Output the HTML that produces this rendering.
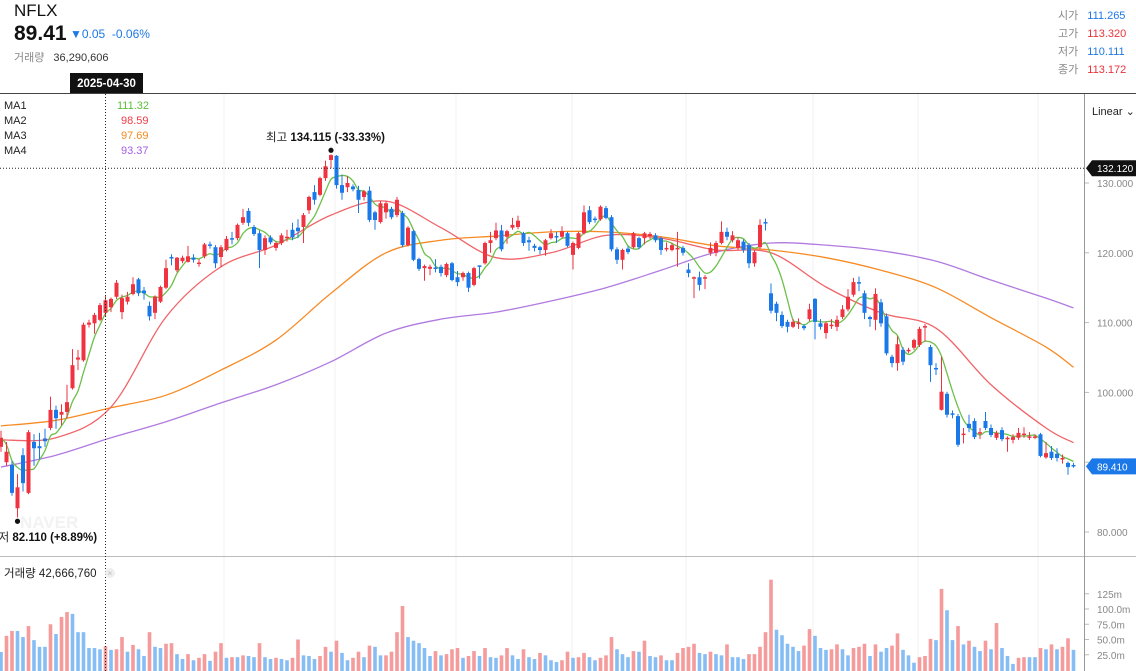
<!DOCTYPE html>
<html><head><meta charset="utf-8">
<style>
body{margin:0;width:1136px;height:671px;overflow:hidden;background:#fff;font-family:"Liberation Sans","Noto Sans CJK KR",sans-serif;position:relative}
.a{position:absolute;white-space:nowrap}
</style></head><body>
<div class="a" style="left:14px;top:1px;font-size:17px;color:#111">NFLX</div>
<div class="a" style="left:14px;top:22px;font-size:21px;font-weight:bold;color:#111">89.41</div>
<div class="a" style="left:70px;top:27px;font-size:12px;color:#1e78e6">▼0.05&nbsp;&nbsp;-0.06%</div>
<div class="a" style="left:14px;top:49px;font-size:11px;color:#888">거래량 <span style="color:#333;margin-left:6px">36,290,606</span></div>
<div class="a" style="left:1058px;top:7px;font-size:11px;line-height:18px;color:#888">
<div>시가 <span style="color:#1e78e6;margin-left:6px">111.265</span></div>
<div>고가 <span style="color:#e8333a;margin-left:6px">113.320</span></div>
<div>저가 <span style="color:#1e78e6;margin-left:6px">110.111</span></div>
<div>종가 <span style="color:#e8333a;margin-left:6px">113.172</span></div>
</div>
<div class="a" style="left:4px;top:99px;font-size:11px;line-height:15px;color:#222">
<div>MA1<span style="position:absolute;left:113px;color:#5cbf3a">111.32</span></div>
<div>MA2<span style="position:absolute;left:117px;color:#f03c46">98.59</span></div>
<div>MA3<span style="position:absolute;left:117px;color:#f5891f">97.69</span></div>
<div>MA4<span style="position:absolute;left:117px;color:#a45ee0">93.37</span></div>
</div>
<svg id="c" width="1136" height="671" style="position:absolute;left:0;top:0" xmlns="http://www.w3.org/2000/svg" font-family="Liberation Sans, Noto Sans CJK KR, sans-serif"></svg>
<script>
const opens=[92.2,90.0,89.6,83.4,91.0,85.6,92.9,92.3,93.4,94.9,97.5,96.8,97.2,100.6,104.7,104.6,109.7,109.9,110.4,111.4,112.2,113.7,111.5,113.0,114.1,116.2,114.6,112.4,111.4,113.0,115.0,119.4,117.5,118.8,118.7,119.3,118.4,119.5,121.2,120.8,119.4,120.4,122.1,122.1,124.3,126.0,123.7,122.8,120.4,122.2,120.7,121.4,122.1,123.3,123.6,123.7,126.1,128.7,128.3,130.7,133.3,133.9,129.7,129.4,129.5,129.0,128.0,128.9,125.8,124.4,125.8,126.3,125.4,125.7,121.1,123.1,119.1,117.8,117.7,117.9,118.0,116.8,118.5,116.5,116.5,117.1,115.4,118.2,118.5,121.4,122.1,123.2,122.3,123.6,123.7,122.8,121.8,121.0,120.8,120.4,122.1,122.4,122.3,122.8,119.7,120.7,122.8,126.1,124.9,124.8,126.4,125.1,120.5,119.0,120.6,120.8,122.1,122.1,122.4,122.5,122.1,120.5,120.4,120.5,120.7,117.6,116.3,116.5,116.3,120.0,120.0,121.4,123.0,121.8,120.7,121.6,121.1,118.5,120.8,124.4,114.2,112.7,111.1,110.1,109.4,109.8,109.5,110.5,113.4,109.9,108.5,109.5,109.4,110.8,111.9,114.0,115.8,114.2,110.8,110.4,112.9,110.9,105.1,104.2,106.1,105.9,106.4,106.8,109.3,106.5,103.5,97.5,99.8,97.0,96.6,93.9,95.5,95.9,94.1,95.9,94.9,93.5,94.6,93.3,93.2,93.5,93.9,93.5,93.5,94.0,90.7,91.5,91.2,90.4,89.9,89.6];
const highs=[94.5,92.9,90.2,88.3,92.0,94.6,94.0,94.2,94.8,99.4,98.1,98.3,101.1,106.2,106.1,110.0,110.4,111.4,112.8,113.8,113.6,116.1,114.0,114.4,116.5,116.4,115.1,113.0,113.9,115.3,119.0,119.8,119.4,119.6,121.0,119.8,119.1,121.4,121.6,121.1,121.1,122.4,123.0,124.2,126.3,126.4,124.0,123.2,122.5,122.5,121.6,122.8,123.3,124.3,124.8,125.7,128.2,129.7,130.9,133.2,134.1,134.0,131.2,131.0,129.8,129.6,129.0,129.5,126.0,127.4,127.4,126.6,128.0,126.0,123.8,123.3,119.3,118.3,118.3,119.1,118.3,118.6,118.7,117.4,117.3,117.3,118.0,118.2,121.6,123.0,124.3,124.0,123.3,125.0,125.3,123.0,122.3,121.3,121.0,122.0,123.4,123.0,123.8,123.0,121.6,123.0,126.8,126.7,125.2,126.8,126.7,125.4,120.8,120.6,121.0,123.0,122.3,123.0,123.0,122.8,122.3,121.5,121.4,123.0,121.0,118.5,116.6,117.3,116.8,121.5,121.7,124.5,123.6,123.1,122.2,121.9,121.4,120.4,124.8,124.9,115.6,113.0,111.6,110.4,110.5,110.6,109.8,112.7,113.5,110.5,110.2,110.5,111.0,112.5,114.8,116.4,116.6,114.6,111.0,114.9,113.4,111.3,105.4,108.0,106.5,106.4,107.7,109.4,109.8,106.8,104.2,105.1,100.1,97.4,96.9,94.9,96.8,96.3,94.9,97.2,95.4,94.5,95.0,93.7,94.0,94.9,95.0,94.3,94.0,94.2,92.9,92.3,92.0,91.1,90.1,89.9];
const lows=[91.5,89.5,85.2,82.1,85.8,85.4,89.5,90.4,92.2,94.6,94.8,95.3,96.3,100.4,103.2,104.4,109.3,108.4,110.2,110.8,111.5,113.4,110.5,112.6,113.9,113.8,113.3,110.3,110.5,112.8,114.8,118.2,117.2,118.5,118.6,118.6,118.0,119.2,120.6,117.8,117.9,120.2,121.2,121.8,124.0,123.8,122.4,117.8,119.7,121.2,120.3,121.1,121.6,121.8,122.1,121.4,125.6,126.9,128.1,130.3,132.1,129.2,127.6,128.7,128.8,125.7,127.5,124.4,123.3,124.2,124.9,124.8,125.1,120.8,120.9,118.8,117.4,116.0,116.8,117.2,116.6,116.5,115.9,115.2,116.0,114.4,115.2,116.3,118.3,120.0,121.8,120.2,121.3,123.3,123.4,121.0,120.3,120.2,119.8,119.6,121.9,121.4,122.1,120.8,117.6,120.5,122.6,124.1,124.3,124.6,124.8,120.2,118.4,117.6,119.8,120.6,120.5,121.2,122.0,121.5,119.7,120.2,120.2,118.0,119.6,116.5,113.5,114.6,114.8,119.6,119.5,121.2,121.8,121.5,120.4,120.0,117.8,118.0,120.5,123.2,111.3,110.2,109.2,108.6,109.2,109.1,108.9,110.2,107.6,109.0,107.7,109.1,108.8,110.5,111.6,113.7,114.5,110.5,109.4,108.9,109.4,105.3,103.6,103.1,103.9,105.6,106.1,106.5,107.3,101.5,102.5,97.4,96.4,96.3,92.2,92.7,94.3,93.3,93.3,94.6,93.6,93.2,93.0,91.5,92.7,93.2,93.5,93.2,93.3,90.7,90.5,90.3,90.1,89.8,88.2,89.2];
const closes=[93.5,91.5,85.6,86.4,87.0,94.3,92.0,92.0,93.0,97.5,96.3,97.2,98.6,103.9,105.0,109.7,110.0,111.1,112.5,113.2,113.4,115.7,113.5,113.7,115.5,114.2,114.2,110.9,113.7,115.1,117.8,119.2,119.3,119.3,119.5,119.0,118.6,121.2,121.0,118.5,120.8,122.0,121.9,124.0,125.1,124.3,122.7,120.4,122.1,121.5,121.4,122.5,122.3,122.2,123.1,125.4,128.0,127.6,130.7,132.4,134.0,129.7,128.6,130.0,129.1,127.6,128.8,124.7,124.7,127.1,127.1,125.1,127.6,121.1,123.6,119.0,117.7,118.1,118.0,117.7,117.1,118.4,116.1,115.8,117.1,115.0,117.8,118.0,121.4,121.8,123.2,120.5,123.1,124.0,124.6,121.4,121.5,120.7,120.4,121.8,122.8,122.2,123.1,121.0,121.4,122.8,125.8,124.4,124.7,126.6,125.0,120.5,119.0,120.4,120.1,122.8,120.8,122.8,122.7,121.8,120.4,120.7,121.1,120.7,120.0,117.1,116.5,115.4,116.5,120.7,121.4,123.0,122.3,122.5,121.8,120.4,118.5,120.1,124.0,124.2,111.7,111.4,109.5,109.4,110.1,110.0,109.2,111.9,110.1,109.4,109.9,109.7,110.4,111.9,113.7,115.8,115.6,111.4,110.5,114.1,109.9,105.6,104.2,106.9,104.4,106.1,107.5,109.1,109.5,103.9,103.3,100.1,96.8,96.8,92.5,94.1,94.9,93.6,94.3,94.9,93.9,94.2,93.3,93.5,93.6,94.2,94.1,93.7,93.7,90.9,91.3,90.6,90.6,90.6,89.3,89.4];
const volumes=[29.5,56,64,64,54,72,49,38,38,75,59,87,95,92,62,62,36,36,34,39,33,34,54,30,41,34,23,62,38,36,43,44,26,18,26,16,20,26,15,30,44,20,21,21,24,23,21,44,21,18,20,18,16,20,50,24,23,18,23,38,30,48,28,16,20,30,21,40,38,24,24,30,62,105,54,48,44,36,23,31,24,26,34,36,20,23,31,23,36,21,20,24,36,24,18,34,21,18,28,24,16,13,
16,30,20,21,28,21,16,20,24,54,34,26,21,31,30,48,23,21,24,16,16,28,36,38,43,28,26,30,26,24,42,21,21,18,26,26,38,62,148,66,57,43,38,31,40,67,56,36,33,34,42,34,24,36,38,43,23,42,30,36,40,60,33,24,12,21,23,51,49,133,98,49,72,42,48,38,31,48,34,77,36,23,10,20,21,21,21,36,34,42,34,38,52,33];
const volumeDir=("brrbbrbbbr"+"brrbbbbbbr"+"brrbrbbrbb"+"rrbbrbrrbr"+"rbrbrbbrbb"+"rbbrrbbbrr"+"brbbrrbrbb"+"rrrrbbbbbr"+"brrrbrrbrb"+"brrbbrbbrb"+"bb"+
"rrbrrbbrrr"+"bbbrbrbbrb"+"brrrrbbrbb"+"rbbbrrrrrb"+"bbbbrrbbbr"+"rbbrrrbrbb"+"rrbbbrrrbr"+"bbrbrbbrbr"+"bbbrrbbrbr"+"brrb").split('');
const maAt=[0,10,20,30,40,50,60,70,80,90,100,110,120,130,140,150,160,170,180,190,195];
const ma2=[93.2,93.5,97.9,110.8,118.0,121.1,125.4,127.4,123.6,119.3,120.0,122.5,122.1,120.4,120.0,115.1,111.4,109.2,101.1,94.9,92.8];
const ma3=[95.2,96.0,97.8,99.6,103.2,107.5,114.2,120.0,121.8,122.4,123.0,123.0,122.3,121.0,120.4,119.3,117.5,115.0,110.7,106.5,103.6];
const ma4=[89.3,91.0,93.5,95.8,98.5,101.1,104.4,108.5,110.5,111.5,113.1,115.0,117.5,120.1,121.4,121.1,120.3,118.8,116.1,113.5,112.1];
const priceTicks=[130,120,110,100,90,80];
const volTicks=[125,100,75,50,25];
const volTickLabels=["125m","100.0m","75.0m","50.0m","25.0m"];

const NS="http://www.w3.org/2000/svg";
const svg=document.getElementById('c');
function mk(tag,attrs,parent){const e=document.createElementNS(NS,tag);for(const k in attrs)e.setAttribute(k,attrs[k]);(parent||svg).appendChild(e);return e;}
const xOf=i=>1+i*5.5;
const yOf=p=>183+(130-p)*6.98;
const vY=v=>670-v*0.61;
const RED="#ef3340",BLUE="#1a78e8";

[224,335,456,572,686,813,918,1038].forEach(x=>{
 const g=mk('line',{x1:x,x2:x,y1:93,y2:671,stroke:'#f0f0f0','stroke-width':1});
 
 
});
const defs=mk('defs',{});
const cp=mk('clipPath',{id:'pc'},defs);mk('rect',{x:0,y:94,width:1084,height:461},cp);
const pg=mk('g',{'clip-path':'url(#pc)'});



const wm=mk('text',{x:20,y:528,'font-size':17,'font-weight':'bold',fill:'#f2f2f2'},pg);wm.textContent='NAVER';



function smooth(pts){let d='M'+pts[0][0]+','+pts[0][1];for(let i=0;i<pts.length-1;i++){const p0=pts[i-1]||pts[i],p1=pts[i],p2=pts[i+1],p3=pts[i+2]||p2;d+=' C'+(p1[0]+(p2[0]-p0[0])/6)+','+(p1[1]+(p2[1]-p0[1])/6)+' '+(p2[0]-(p3[0]-p1[0])/6)+','+(p2[1]-(p3[1]-p1[1])/6)+' '+p2[0]+','+p2[1];}return d;}
function maLine(vals,color,name){
 const pts=vals.map((v,k)=>[xOf(maAt[k]),yOf(v)]);
 const pth=mk('path',{d:smooth(pts),fill:'none',stroke:color,'stroke-width':1.3},pg);
 
 
}
maLine(ma4,'#b07ae0','ma4-line');
maLine(ma3,'#f68b24','ma3-line');
maLine(ma2,'#f06468','ma2-line');
const ma1pts=closes.map((c,i)=>{const s=closes.slice(Math.max(0,i-4),i+1);return [xOf(i),yOf(s.reduce((a,b)=>a+b,0)/s.length)];});
const m1=mk('path',{d:smooth(ma1pts),fill:'none',stroke:'#6cc04a','stroke-width':1.3},pg);



closes.forEach((c,i)=>{
 const o=opens[i],up=c>=o,col=up?RED:BLUE,x=xOf(i);
 const g=mk('g',{},pg);
 
 
 mk('line',{x1:x,x2:x,y1:yOf(highs[i]),y2:yOf(lows[i]),stroke:col,'stroke-width':1},g);
 const t=yOf(Math.max(o,c)),b=yOf(Math.min(o,c));
 mk('rect',{x:x-2,y:t,width:4,height:Math.max(1.5,b-t),fill:col},g);
});
volumes.forEach((v,i)=>{
 const up=volumeDir[i]==='r';
 const r=mk('rect',{x:xOf(i)-1.8,y:vY(v),width:3.6,height:670-vY(v)+1,fill:up?'#f59b9b':'#86bdf5'});
 
 
});

mk('line',{x1:0,x2:1136,y1:93.5,y2:93.5,stroke:'#444','stroke-width':1});
mk('line',{x1:0,x2:1136,y1:556.5,y2:556.5,stroke:'#bbb','stroke-width':1});
const ax=mk('line',{x1:1084.5,x2:1084.5,y1:94,y2:671,stroke:'#999','stroke-width':1});


const ch=mk('line',{x1:105.5,x2:105.5,y1:94,y2:671,stroke:'#222','stroke-width':1,'stroke-dasharray':'1,2'});


const hl=mk('line',{x1:0,x2:1084,y1:yOf(132.12),y2:yOf(132.12),stroke:'#222','stroke-width':1,'stroke-dasharray':'1,2'});



priceTicks.forEach(p=>{
 const t=mk('text',{x:1097,y:yOf(p)+4,'font-size':10,fill:'#888'});t.textContent=p.toFixed(3);
 
 
 mk('line',{x1:1085,x2:1089,y1:yOf(p),y2:yOf(p),stroke:'#bbb'});
});
volTicks.forEach((v,k)=>{
 const t=mk('text',{x:1097,y:vY(v)+4,'font-size':10,fill:'#888'});t.textContent=volTickLabels[k];
 
 
 mk('line',{x1:1085,x2:1089,y1:vY(v),y2:vY(v),stroke:'#bbb'});
});
function tag(p,txt,bg,name){
 const y=yOf(p);const g=mk('g',{});
 
 
 mk('path',{d:`M1086,${y} L1092,${y-8} L1136,${y-8} L1136,${y+8} L1092,${y+8} Z`,fill:bg},g);
 const t=mk('text',{x:1097,y:y+4,'font-size':10,fill:'#fff'},g);t.textContent=txt;
}
tag(132.12,'132.120','#111','crosshair-price-tag');
tag(89.41,'89.410','#1a78e8','last-price-tag');
const dg=mk('g',{});


mk('rect',{x:70,y:73,width:73,height:20,fill:'#111'},dg);
const dt=mk('text',{x:106.5,y:87,'font-size':11.5,'font-weight':'bold',fill:'#fff','text-anchor':'middle'},dg);dt.textContent='2025-04-30';
const ls=mk('text',{x:1092,y:115,'font-size':11,fill:'#222'});ls.textContent='Linear ⌄';


mk('circle',{cx:xOf(60),cy:yOf(134.115)-4,r:2.6,fill:'#111'});
const hi=mk('text',{x:266,y:141,'font-size':11.5,fill:'#222'});hi.innerHTML='최고 <tspan font-weight="bold" fill="#111">134.115 (-33.33%)</tspan>';


mk('circle',{cx:xOf(3),cy:yOf(82.11)+4,r:2.6,fill:'#111'});
const lo=mk('text',{x:-12,y:541,'font-size':11.5,fill:'#222'});lo.innerHTML='최저 <tspan font-weight="bold" fill="#111">82.110 (+8.89%)</tspan>';


const vt=mk('text',{x:4,y:577,'font-size':11.5,fill:'#222'});vt.textContent='거래량 42,666,760';


const vc=mk('circle',{cx:110,cy:573,r:5,fill:'#eee'});


const vx=mk('text',{x:110,y:576,'font-size':8,fill:'#bbb','text-anchor':'middle'});vx.textContent='×';
</script>
</body></html>
